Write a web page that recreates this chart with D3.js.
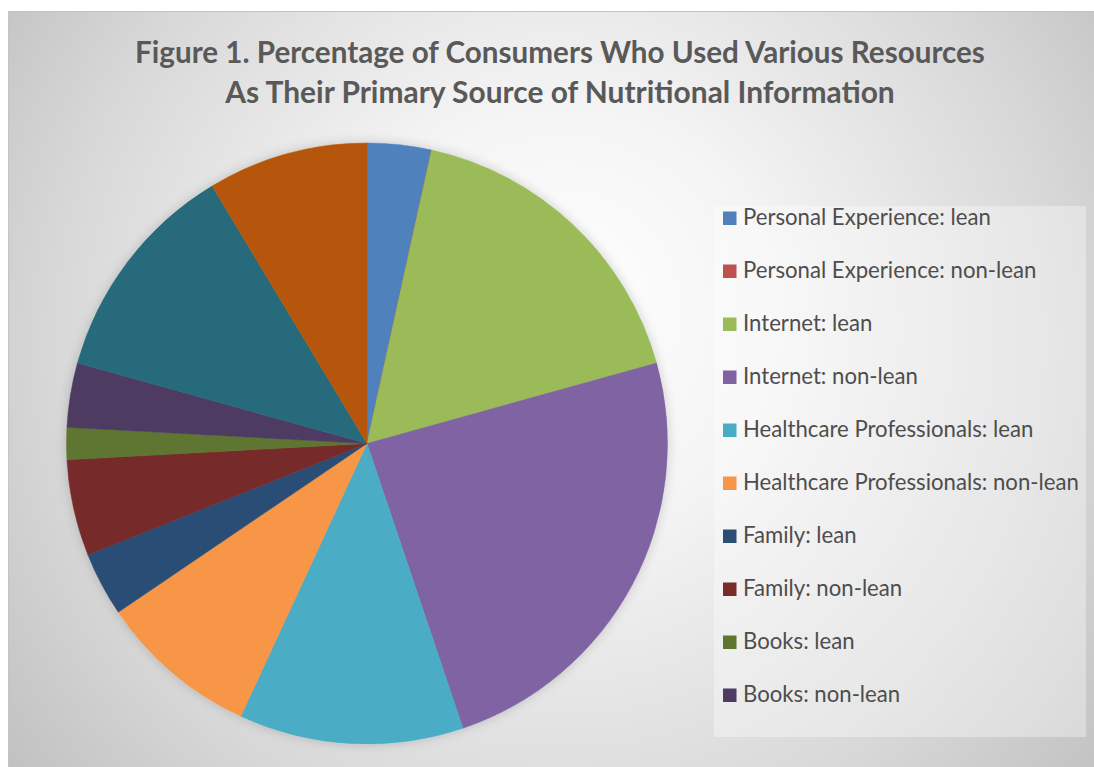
<!DOCTYPE html>
<html>
<head>
<meta charset="utf-8">
<script src="https://cdn.jsdelivr.net/npm/d3@7"></script>
<style>
  html, body { margin: 0; padding: 0; background: #ffffff; }
  svg { display: block; }
</style>
</head>
<body>
<svg id="chart" width="1094" height="767"></svg>
<script>
// ---- data ----
const categories = [
  "Personal Experience: lean",
  "Personal Experience: non-lean",
  "Internet: lean",
  "Internet: non-lean",
  "Healthcare Professionals: lean",
  "Healthcare Professionals: non-lean",
  "Family: lean",
  "Family: non-lean",
  "Books: lean",
  "Books: non-lean",
  "Other: lean",
  "Other: non-lean"
];
const values = [2, 0, 10, 14, 7, 5, 2, 3, 1, 2, 7, 5];
const colors = [
  "#4F81BD", "#C0504D", "#9BBB59", "#8064A2", "#4BACC6", "#F79646",
  "#2C4D75", "#772C2A", "#5F7530", "#4D3B62", "#276A7C", "#B65708"
];
const legendCount = 10; // legend box only shows the first ten entries
const titleLines = [
  "Figure 1. Percentage of Consumers Who Used Various Resources",
  "As Their Primary Source of Nutritional Information"
];

// ---- drawing ----
const svg = d3.select("#chart");
const defs = svg.append("defs");

const grad = defs.append("radialGradient")
  .attr("id", "bg")
  .attr("gradientUnits", "userSpaceOnUse")
  .attr("cx", 560).attr("cy", 360).attr("r", 720)
  .attr("fx", 560).attr("fy", 300);
grad.append("stop").attr("offset", "0").attr("stop-color", "#ffffff");
grad.append("stop").attr("offset", "0.3").attr("stop-color", "#f4f4f4");
grad.append("stop").attr("offset", "0.7").attr("stop-color", "#d8d8d8");
grad.append("stop").attr("offset", "1").attr("stop-color", "#bdbdbd");

const shadow = defs.append("filter").attr("id", "shadow")
  .attr("x", "-10%").attr("y", "-10%").attr("width", "120%").attr("height", "120%");
shadow.append("feGaussianBlur").attr("in", "SourceAlpha").attr("stdDeviation", 6).attr("result", "b");
shadow.append("feComponentTransfer").attr("in", "b").attr("result", "s")
  .append("feFuncA").attr("type", "linear").attr("slope", 0.18);
const merge = shadow.append("feMerge");
merge.append("feMergeNode").attr("in", "s");
merge.append("feMergeNode").attr("in", "SourceGraphic");

// chart area
svg.append("rect")
  .attr("x", 8.5).attr("y", 11.5)
  .attr("width", 1100).attr("height", 770)
  .attr("fill", "url(#bg)")
  .attr("stroke", "#c4c4c4").attr("stroke-width", 1);

// title
const title = svg.append("g").attr("font-family", "Lato, 'Open Sans', sans-serif")
  .attr("font-weight", "bold").attr("fill", "#595959").attr("text-anchor", "middle");
const titleTargets = [850, 670];
titleLines.forEach((t, i) => {
  const txt = title.append("text")
    .attr("x", 560).attr("y", 63 + i * 40)
    .attr("font-size", 28)
    .text(t);
  const w = txt.node().getComputedTextLength();
  txt.attr("font-size", 28 * titleTargets[i] / w);
});

// pie
const cx = 367, cy = 443.5, R = 300.5;
const pie = d3.pie().sort(null).value(d => d).startAngle(0).endAngle(2 * Math.PI);
const arc = d3.arc().innerRadius(0).outerRadius(R);
const arcs = pie(values);

const pieG = svg.append("g")
  .attr("transform", `translate(${cx},${cy})`)
  .attr("filter", "url(#shadow)");
pieG.selectAll("path")
  .data(arcs)
  .join("path")
  .attr("d", arc)
  .attr("fill", (d, i) => colors[i])
  .attr("stroke", (d, i) => colors[i])
  .attr("stroke-width", 0.5);

// legend
const lg = svg.append("g");
lg.append("rect")
  .attr("x", 714).attr("y", 206)
  .attr("width", 372).attr("height", 531)
  .attr("fill", "#ffffff").attr("fill-opacity", 0.35);

const legendColor = d3.scaleOrdinal().domain(categories).range(colors);
const items = categories.slice(0, legendCount);
const ly = d3.scalePoint().domain(items).range([218, 695]);

const li = lg.selectAll("g.item").data(items).join("g").attr("class", "item")
  .attr("transform", d => `translate(723,${ly(d)})`);
li.append("rect")
  .attr("x", 0).attr("y", -6.5).attr("width", 13.5).attr("height", 13.5)
  .attr("fill", d => legendColor(d));
const ltxt = li.append("text")
  .attr("x", 20).attr("y", 7)
  .attr("font-family", "Lato, 'Open Sans', sans-serif")
  .attr("font-size", 20)
  .attr("fill", "#4d4d4d")
  .text(d => d);
// fit font so first label spans ~248px like the reference
const w0 = ltxt.nodes()[0].getComputedTextLength();
ltxt.attr("font-size", 20 * 248 / w0);
</script>
</body>
</html>
